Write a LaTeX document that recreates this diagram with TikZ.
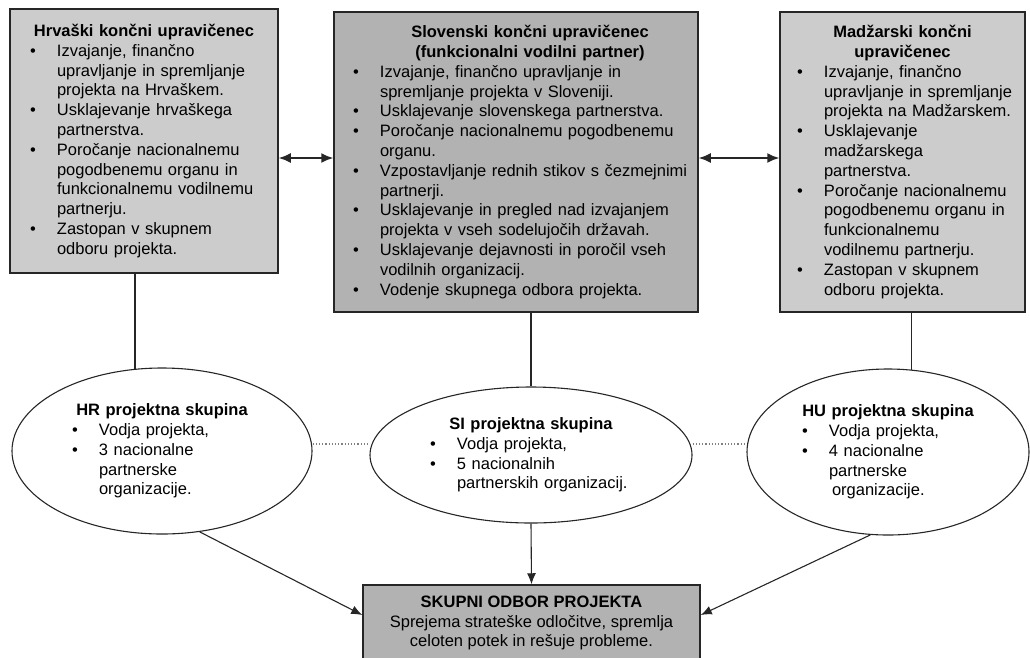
\documentclass[tikz,border=0pt]{standalone}
\usepackage{fontspec}
\setmainfont{Liberation Sans}
\usetikzlibrary{arrows.meta,positioning,calc,shapes.geometric}
\newcommand{\bitem}[1][38pt]{\par\noindent\hangindent=#1\hangafter=1\makebox[#1][r]{\textbullet\hspace{21pt}}\ignorespaces}
\tikzset{
partnerbox/.style={draw=black!85, line width=1.5pt, fill=gray!40, inner sep=9pt, align=left, font=\fontsize{16.5}{19.8}\selectfont},
leadbox/.style={partnerbox, fill=gray!60, inner sep=8pt},
groupoval/.style={draw=black!85, line width=1.1pt, fill=white, ellipse, inner sep=0pt, align=left, font=\fontsize{16.5}{19.8}\selectfont},
boardbox/.style={draw=black!85, line width=1.5pt, fill=gray!60, align=center, inner sep=4pt, font=\fontsize{16.5}{19.8}\selectfont},
linkarrow/.style={-{Latex[length=11pt,width=9pt]}, line width=1.1pt, draw=black!85},
twowayarrow/.style={{Latex[length=12pt,width=10pt]}-{Latex[length=12pt,width=10pt]}, line width=1.6pt, draw=black!85},
plainlink/.style={line width=1.1pt, draw=black!85},
dotlink/.style={dotted, line width=1.2pt, draw=gray}
}

\begin{document}
\begin{tikzpicture}[x=1pt,y=-1pt]
\useasboundingbox (0,0) rectangle (1030,657);
\clip (0,0) rectangle (1030,657);

\node[partnerbox, minimum width=268pt, minimum height=264pt, text width=250pt] (hrbox) at (144,141) {%
\centerline{\bfseries Hrvaški končni upravičenec}
\bitem Izvajanje, finančno\newline upravljanje in spremljanje\newline projekta na Hrvaškem.
\bitem Usklajevanje hrvaškega\newline partnerstva.
\bitem Poročanje nacionalnemu\newline pogodbenemu organu in\newline funkcionalnemu vodilnemu\newline partnerju.
\bitem Zastopan v skupnem\newline odboru projekta.\par};
\node[leadbox, minimum width=364pt, minimum height=300pt, text width=348pt] (sibox) at (516,162) {%
\centerline{\kern28pt\bfseries Slovenski končni upravičenec}
\centerline{\kern28pt\bfseries (funkcionalni vodilni partner)}
\bitem Izvajanje, finančno upravljanje in\newline spremljanje projekta v Sloveniji.
\bitem Usklajevanje slovenskega partnerstva.
\bitem Poročanje nacionalnemu pogodbenemu\newline organu.
\bitem Vzpostavljanje rednih stikov s čezmejnimi\newline partnerji.
\bitem Usklajevanje in pregled nad izvajanjem\newline projekta v vseh sodelujočih državah.
\bitem Usklajevanje dejavnosti in poročil vseh\newline vodilnih organizacij.
\bitem Vodenje skupnega odbora projekta.\par};
\node[partnerbox, inner sep=6pt, minimum width=245pt, minimum height=300pt, text width=233pt] (hubox) at (902.5,162) {%
\centerline{\bfseries Madžarski končni}
\centerline{\bfseries upravičenec}
\bitem Izvajanje, finančno\newline upravljanje in spremljanje\newline projekta na Madžarskem.
\bitem Usklajevanje\newline madžarskega\newline partnerstva.
\bitem Poročanje nacionalnemu\newline pogodbenemu organu in\newline funkcionalnemu\newline vodilnemu partnerju.
\bitem Zastopan v skupnem\newline odboru projekta.\par};

\node[groupoval, minimum width=300pt, minimum height=166pt, text width=180pt] (hrgroup) at (162,451) {%
\centerline{\bfseries HR projektna skupina}
\bitem[27pt] Vodja projekta,
\bitem[27pt] 3 nacionalne\newline partnerske\newline organizacije.\par};
\node[groupoval, minimum width=322pt, minimum height=136pt, text width=202pt] (sigroup) at (531,455) {%
\centerline{\bfseries SI projektna skupina}
\bitem[27pt] Vodja projekta,
\bitem[27pt] 5 nacionalnih\newline partnerskih organizacij.\par};
\node[groupoval, minimum width=282pt, minimum height=166pt, text width=172pt] (hugroup) at (888,452) {%
\centerline{\bfseries HU projektna skupina}
\bitem[27pt] Vodja projekta,
\bitem[27pt] 4 nacionalne\newline partnerske\newline \hspace*{3pt}organizacije.\par};

\node[boardbox, minimum width=337pt, minimum height=76pt] (board) at (531.5,623) {\textbf{SKUPNI ODBOR PROJEKTA}\\Sprejema strateške odločitve, spremlja\\celoten potek in rešuje probleme.};

\coordinate (linkrow) at (0,158);
\coordinate (dotrow) at (0,444);
\coordinate (hrdrop) at ([xshift=-9pt]hrbox.south);
\coordinate (hudrop) at ([xshift=9pt]hubox.south);

\draw[twowayarrow] (hrbox.east |- linkrow) -- (sibox.west |- linkrow);
\draw[twowayarrow] (sibox.east |- linkrow) -- (hubox.west |- linkrow);
\draw[plainlink, shorten >=-1.5pt] (hrdrop) -- (hrdrop |- hrgroup.north);
\draw[plainlink] (sibox.south -| sigroup.north) -- (sigroup.north);
\draw[plainlink, shorten >=-1.5pt] (hudrop) -- (hudrop |- hugroup.north);
\draw[dotlink] (hrgroup.east |- dotrow) -- (sigroup.west |- dotrow);
\draw[dotlink] (sigroup.east |- dotrow) -- (hugroup.west |- dotrow);
\draw[linkarrow] (hrgroup.-65) -- ([yshift=8pt]board.west);
\draw[linkarrow] (sigroup.south) -- (board.north);
\draw[linkarrow] (hugroup.-102) -- ([yshift=8pt]board.east);
\end{tikzpicture}
\end{document}
